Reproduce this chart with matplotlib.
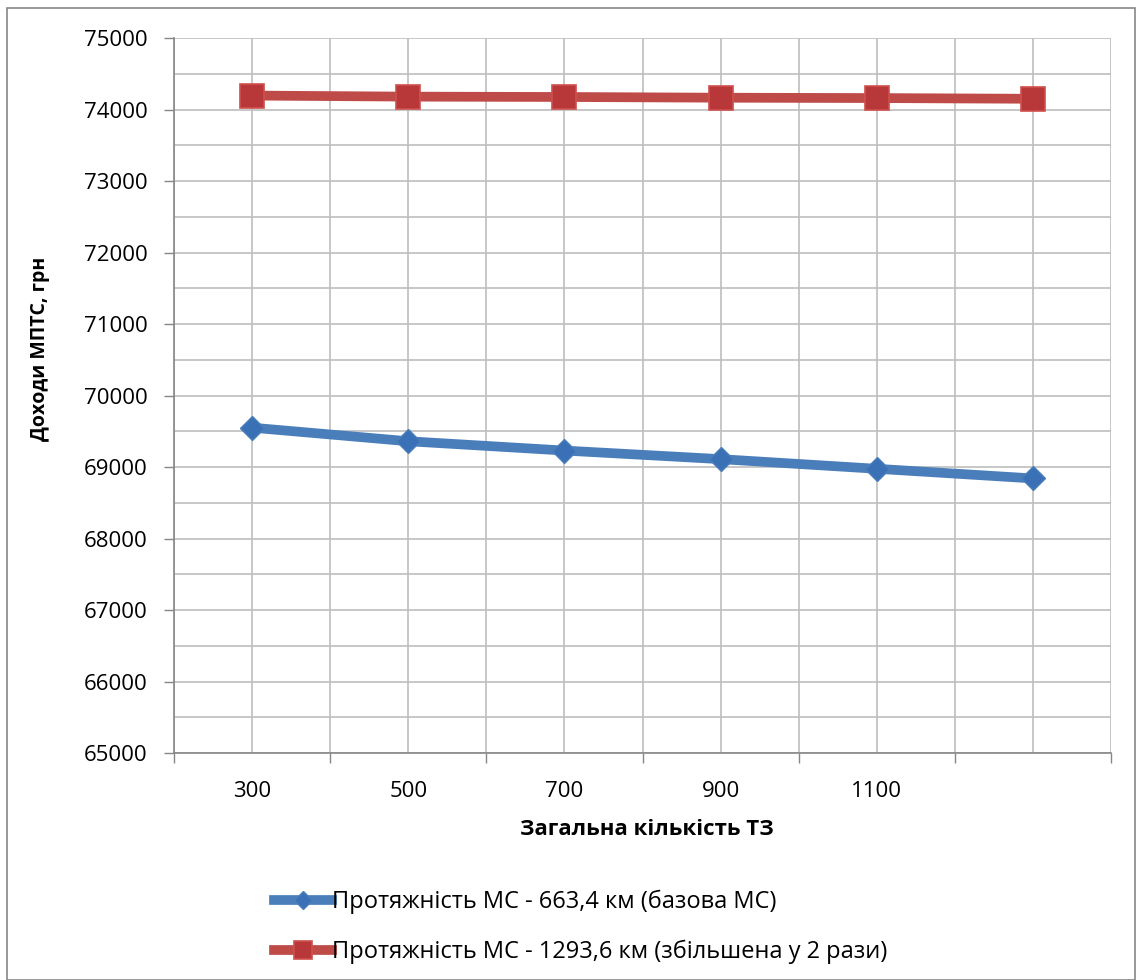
import matplotlib
matplotlib.use("Agg")
import matplotlib.pyplot as plt
from matplotlib.patches import Rectangle
import numpy as np

plt.rcParams['font.family'] = ['Open Sans', 'DejaVu Sans']

# Загальна кількість ТЗ (остання категорія без підпису)
categories = ['300', '500', '700', '900', '1100', '']
# Доходи МПТС, грн
income_base = [69550, 69360, 69230, 69110, 68975, 68840]
income_double = [74195, 74180, 74175, 74165, 74160, 74150]

label_base = 'Протяжність МС - 663,4 км (базова МС)'
label_double = 'Протяжність МС - 1293,6 км (збільшена у 2 рази)'

fig = plt.figure(figsize=(11.38, 9.8), dpi=100)
ax = fig.add_axes([174 / 1138, 1 - 753 / 980, (1111 - 174) / 1138, (753 - 38) / 980])

x = np.arange(len(categories))

ax.plot(x, income_base, color='#4A7EBB', linewidth=7, marker='D', markersize=12.5,
        markerfacecolor='#3A70B5', markeredgecolor='#4A7EBB', markeredgewidth=1,
        label=label_base, zorder=3)
ax.plot(x, income_double, color='#BE4B48', linewidth=7, marker='s', markersize=17,
        markerfacecolor='#B8383A', markeredgecolor='#D0504D', markeredgewidth=1.2,
        label=label_double, zorder=4)

# Осі
ax.set_xlim(-0.5, len(categories) - 0.5)
ax.set_ylim(65000, 75000)
ax.set_yticks(np.arange(65000, 75001, 1000))
ax.set_yticks(np.arange(65500, 75000, 1000), minor=True)
ax.set_xticks(np.arange(-0.5, len(categories)))
ax.set_xticklabels([])
ax.set_xticks(x, minor=True)
ax.set_xticklabels(categories, minor=True)

ax.tick_params(axis='y', which='major', direction='out', length=7, width=1,
               color='#868686', labelsize=16, pad=12)
ax.tick_params(axis='y', which='minor', length=0)
ax.tick_params(axis='x', which='major', direction='out', length=7, width=1,
               color='#868686')
ax.tick_params(axis='x', which='minor', length=0, labelsize=16, pad=20)

ax.grid(True, which='both', color='#BEBEBE', linewidth=1.2)
ax.set_axisbelow(True)

for side in ['top', 'right']:
    ax.spines[side].set_visible(False)
for side in ['left', 'bottom']:
    ax.spines[side].set_color('#868686')
    ax.spines[side].set_linewidth(1.2)

fig.text(40 / 1138, 1 - 349 / 980, 'Доходи МПТС, грн', rotation=90, ha='center', va='center',
         fontsize=14, fontweight='bold')
fig.text(647 / 1138, 1 - 829 / 980, 'Загальна кількість ТЗ', ha='center', va='center',
         fontsize=16, fontweight='bold')

leg = fig.legend(loc='center left', bbox_to_anchor=(253 / 1138, 1 - 927 / 980),
                 frameon=False, fontsize=17, handlelength=2.45, handletextpad=0.0,
                 labelspacing=1.1, markerscale=0.75)

# Рамка діаграми
fig.patches.append(Rectangle((7 / 1138, 0), 1128 / 1138, 1 - 8 / 980, transform=fig.transFigure,
                             fill=False, edgecolor='#868686', linewidth=1.2))

fig.savefig('out.png', dpi=100)
